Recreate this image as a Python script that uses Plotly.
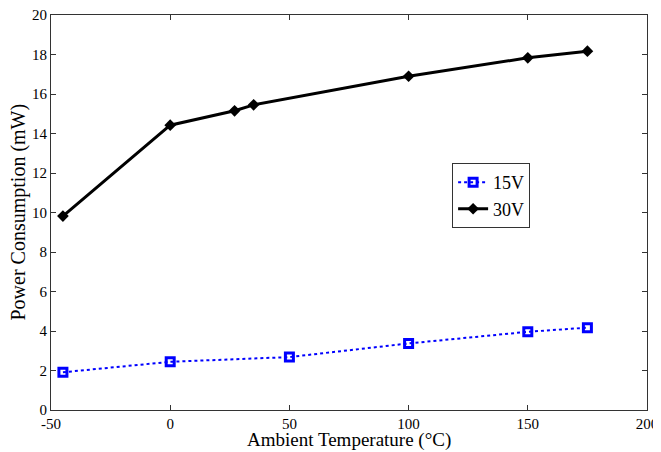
import plotly.graph_objects as go

temps_15 = [-45, 0, 50, 100, 150, 175]
power_15 = [1.91, 2.44, 2.68, 3.37, 3.96, 4.17]
temps_30 = [-45, 0, 27, 35, 100, 150, 175]
power_30 = [9.82, 14.42, 15.15, 15.45, 16.9, 17.83, 18.17]
x_ticks = [-50, 0, 50, 100, 150, 200]
x_tick_labels = ["-50", "0", "50", "100", "150", "200"]
y_ticks = [0, 2, 4, 6, 8, 10, 12, 14, 16, 18, 20]
y_tick_labels = ["0", "2", "4", "6", "8", "10", "12", "14", "16", "18", "20"]

fig = go.Figure()
fig.add_trace(go.Scatter(
    x=temps_15, y=power_15, name="15V", mode="lines+markers",
    line=dict(color="#0000ff", width=2, dash="dot"),
    marker=dict(symbol="square-open", size=8, color="#0000ff",
                line=dict(width=3, color="#0000ff")),
))
fig.add_trace(go.Scatter(
    x=temps_30, y=power_30, name="30V", mode="lines+markers",
    line=dict(color="black", width=3),
    marker=dict(symbol="diamond", size=9, color="black"),
))

font = "Liberation Serif"
axis_common = dict(
    showline=True, linecolor="#333", linewidth=1, mirror="allticks",
    ticks="inside", ticklen=5, tickcolor="#333", showgrid=False,
    zeroline=False, automargin=False, ticklabeloverflow="allow",
    tickfont=dict(family=font, size=15, color="black"),
)
fig.update_layout(
    width=653, height=444,
    font=dict(family=font, color="black"),
    margin=dict(l=43, r=14, t=7, b=42),
    paper_bgcolor="white", plot_bgcolor="white",
    showlegend=True,
    legend=dict(x=0.673, y=0.625, xanchor="left", yanchor="top",
                bgcolor="white", bordercolor="#333", borderwidth=1,
                font=dict(family=font, size=18, color="black"),
                tracegroupgap=0, itemwidth=30),
    xaxis=dict(range=[-50, 200], tickvals=x_ticks, ticktext=x_tick_labels,
               **axis_common),
    yaxis=dict(range=[0, 20], tickvals=y_ticks, ticktext=y_tick_labels,
               **axis_common),
    annotations=[
        dict(text="Ambient Temperature (°C)", xref="paper", yref="paper",
             x=0.5, y=0, yshift=-30, xanchor="center", yanchor="middle",
             showarrow=False, font=dict(family=font, size=19, color="black")),
        dict(text="Power Consumption (mW)", xref="paper", yref="paper",
             x=0, y=0.5, xshift=-33, xanchor="center", yanchor="middle",
             textangle=-90, showarrow=False,
             font=dict(family=font, size=20, color="black")),
    ],
)
fig.write_html("out.html")
